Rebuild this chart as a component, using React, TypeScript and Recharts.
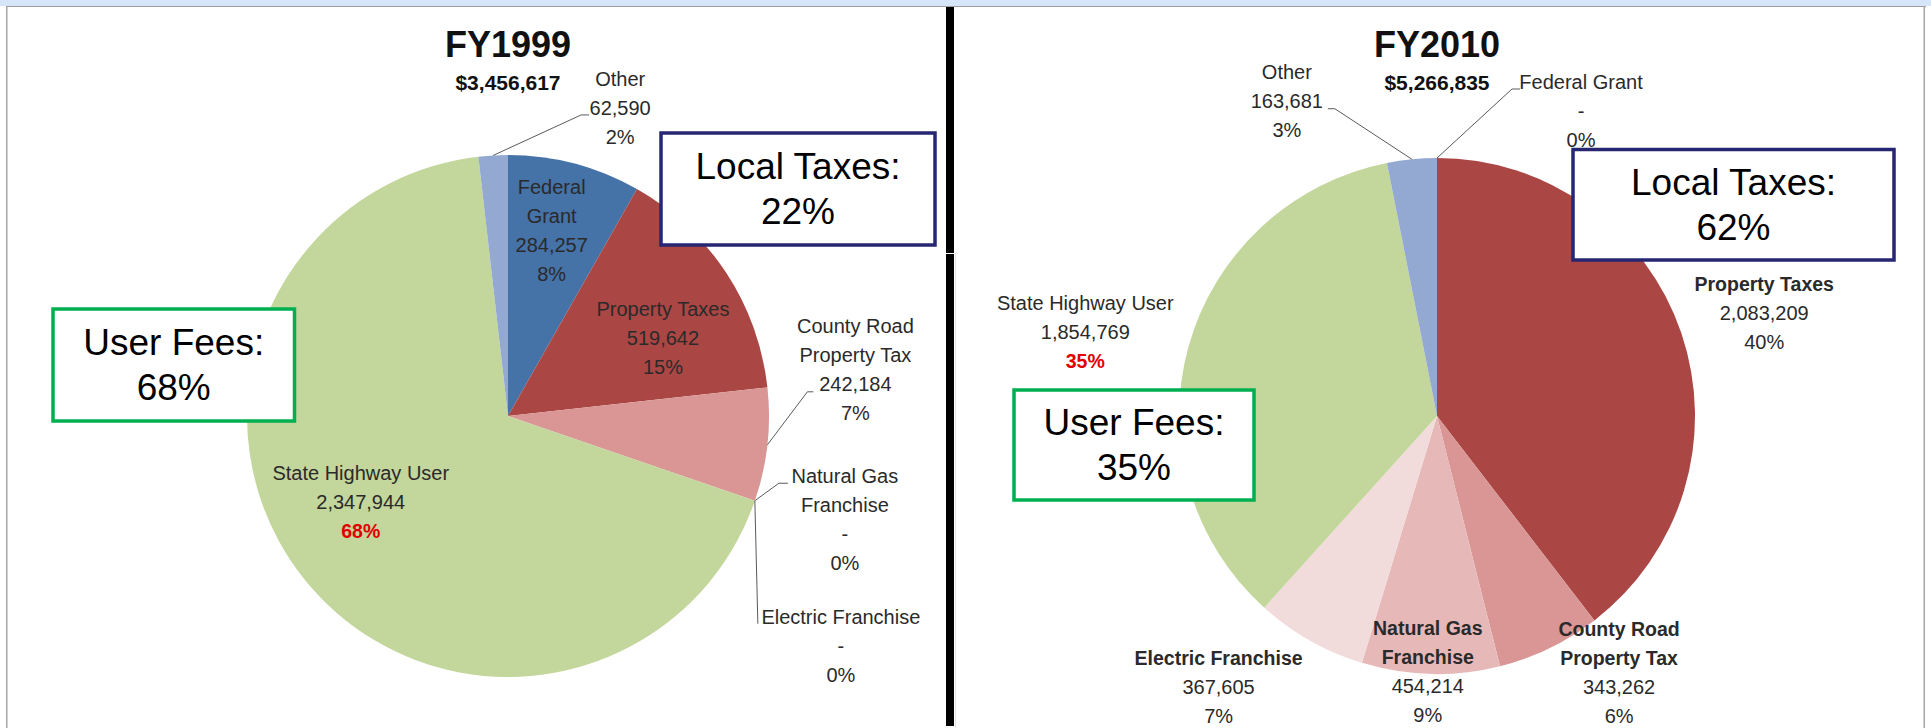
import React from "react";
import { PieChart, Pie, Cell } from "recharts";

document.body.style.margin = "0";

// revenue sources, in clockwise order starting at 12 o'clock
const sources = [
  "Federal Grant",
  "Property Taxes",
  "County Road Property Tax",
  "Natural Gas Franchise",
  "Electric Franchise",
  "State Highway User",
  "Other",
];
const fy1999Values = [284257, 519642, 242184, 0, 0, 2347944, 62590];
const fy2010Values = [0, 2083209, 343262, 454214, 367605, 1854769, 163681];
const fy1999Pct = ["8%", "15%", "7%", "0%", "0%", "68%", "2%"];
const fy2010Pct = ["0%", "40%", "6%", "9%", "7%", "35%", "3%"];
const sliceColors = ["#4572A7", "#AA4643", "#D99694", "#E6B9B8", "#F2DCDB", "#C3D69B", "#93A9D1"];

const titles = ["FY1999", "FY2010"];
const totals = ["$3,456,617", "$5,266,835"];
const userFees = ["68%", "35%"];
const localTaxes = ["22%", "62%"];

const FONT = "'Liberation Sans', Arial, sans-serif";
const LINE = 29;

type LabelLayout = {
  lines: string[];
  rf: number;
  dx: number;
  dy: number;
  bold?: boolean;
  elbow?: [number, number];
  tail?: [number, number];
};

// label placement: anchor on the slice's mid angle, nudged like Excel did
const layout1999: LabelLayout[] = [
  { lines: ["Federal", "Grant"], rf: 0.73, dx: -5, dy: -1 },
  { lines: ["Property Taxes"], rf: 0.66, dx: 11, dy: 17 },
  { lines: ["County Road", "Property Tax"], rf: 1, dx: 88, dy: -75, elbow: [-48, 22], tail: [-42, 22] },
  { lines: ["Natural Gas", "Franchise"], rf: 1, dx: 90, dy: 19, elbow: [-66, -36.5], tail: [-57, -36.5] },
  { lines: ["Electric Franchise"], rf: 1, dx: 86, dy: 145, elbow: [-83, -22] },
  { lines: ["State Highway User"], rf: 0.65, dx: -15, dy: -20 },
  { lines: ["Other"], rf: 1, dx: 127, dy: -47.5, elbow: [-39, 7], tail: [-31, 7] },
];
const layout2010: LabelLayout[] = [
  { lines: ["Federal Grant"], rf: 1, dx: 144, dy: -47, elbow: [-69, -22], tail: [-61, -22] },
  { lines: ["Property Taxes"], rf: 1, dx: 83, dy: -19.5, bold: true },
  { lines: ["County Road", "Property Tax"], rf: 1, dx: 69.5, dy: 24, bold: true },
  { lines: ["Natural Gas", "Franchise"], rf: 1, dx: -3, dy: -2, bold: true },
  { lines: ["Electric Franchise"], rf: 1, dx: -91.5, dy: 46, bold: true },
  { lines: ["State Highway User"], rf: 1, dx: -103, dy: -15 },
  { lines: ["Other"], rf: 1, dx: -125, dy: -58, elbow: [48, 7.5], tail: [41, 7.5] },
];

const makeLabel = (layout: LabelLayout[], pcts: string[]) => (props: any) => {
  const { cx, cy, midAngle, outerRadius, index, value } = props;
  const L = layout[index];
  const a = (midAngle * Math.PI) / 180;
  const ex = cx + outerRadius * Math.cos(a);
  const ey = cy - outerRadius * Math.sin(a);
  const bx = cx + L.rf * outerRadius * Math.cos(a) + L.dx;
  const by = cy - L.rf * outerRadius * Math.sin(a) + L.dy;
  const rows = [
    ...L.lines.map((t) => ({ t, bold: !!L.bold, red: false })),
    { t: value ? Number(value).toLocaleString("en-US") : "-", bold: false, red: false },
    { t: pcts[index], bold: sources[index] === "State Highway User", red: sources[index] === "State Highway User" },
  ];
  const top = by - ((rows.length - 1) * LINE) / 2;
  let pts = "";
  if (L.elbow) {
    pts = `${ex},${ey} ${bx + L.elbow[0]},${by + L.elbow[1]}`;
    if (L.tail) pts += ` ${bx + L.tail[0]},${by + L.tail[1]}`;
  }
  return (
    <g>
      {pts && <polyline points={pts} fill="none" stroke="#5a5a5a" strokeWidth={1} />}
      {rows.map((r, i) => (
        <text
          key={i}
          x={bx}
          y={top + i * LINE}
          textAnchor="middle"
          dominantBaseline="central"
          fontFamily={FONT}
          fontSize={r.bold ? 19.5 : 20}
          fontWeight={r.bold ? "bold" : "normal"}
          fill={r.red ? "#E00000" : "#2a2a2a"}
        >
          {r.t}
        </text>
      ))}
    </g>
  );
};

const data1999 = sources.map((name, i) => ({ name, value: fy1999Values[i] }));
const data2010 = sources.map((name, i) => ({ name, value: fy2010Values[i] }));

const Box = ({ x, y, w, h, color, lines }: { x: number; y: number; w: number; h: number; color: string; lines: string[] }) => (
  <g>
    <rect x={x} y={y} width={w} height={h} fill="#fff" stroke={color} strokeWidth={3.5} />
    {lines.map((t, i) => (
      <text
        key={i}
        x={x + w / 2}
        y={y + h / 2 + (i - 0.5) * 44.5}
        textAnchor="middle"
        dominantBaseline="central"
        fontFamily={FONT}
        fontSize={37}
        fill="#000"
      >
        {t}
      </text>
    ))}
  </g>
);

export default function App() {
  const centers = [508, 1437];
  return (
    <div style={{ position: "relative", width: 1931, height: 728, background: "#fff", overflow: "hidden" }}>
      <PieChart width={1931} height={728} margin={{ top: 0, right: 0, bottom: 0, left: 0 }}>
        <Pie
          data={data1999}
          dataKey="value"
          nameKey="name"
          cx={508}
          cy={416}
          outerRadius={261}
          startAngle={90}
          endAngle={-270}
          stroke="none"
          isAnimationActive={false}
          labelLine={false}
          label={makeLabel(layout1999, fy1999Pct)}
        >
          {data1999.map((d, i) => (
            <Cell key={d.name} fill={sliceColors[i]} />
          ))}
        </Pie>
        <Pie
          data={data2010}
          dataKey="value"
          nameKey="name"
          cx={1437}
          cy={416}
          outerRadius={258}
          startAngle={90}
          endAngle={-270}
          stroke="none"
          isAnimationActive={false}
          labelLine={false}
          label={makeLabel(layout2010, fy2010Pct)}
        >
          {data2010.map((d, i) => (
            <Cell key={d.name} fill={sliceColors[i]} />
          ))}
        </Pie>
      </PieChart>
      <svg width={1931} height={728} style={{ position: "absolute", left: 0, top: 0, pointerEvents: "none" }}>
        {/* frame */}
        <rect x={0} y={0} width={1931} height={6} fill="#D6E5F9" />
        <rect x={6} y={6} width={1920} height={1} fill="#9c9c9c" />
        <rect x={6} y={6} width={1.5} height={722} fill="#a6a6a6" />
        <rect x={1923.5} y={6} width={1.5} height={722} fill="#a6a6a6" />
        <rect x={955} y={253} width={1} height={475} fill="#e4e4e4" />
        <rect x={946} y={7} width={8} height={719} fill="#000" />
        <rect x={946} y={253} width={8} height={1} fill="#fff" />
        {titles.map((t, i) => (
          <g key={t}>
            <text x={centers[i]} y={44} textAnchor="middle" dominantBaseline="central" fontFamily={FONT} fontSize={36} fontWeight="bold" fill="#111">
              {t}
            </text>
            <text x={centers[i]} y={82} textAnchor="middle" dominantBaseline="central" fontFamily={FONT} fontSize={21} fontWeight="bold" fill="#111">
              {totals[i]}
            </text>
          </g>
        ))}
        <Box x={53} y={309} w={241.5} h={112} color="#00B050" lines={["User Fees:", userFees[0]]} />
        <Box x={661} y={133} w={274} h={112} color="#262672" lines={["Local Taxes:", localTaxes[0]]} />
        <Box x={1014} y={390} w={240} h={110} color="#00B050" lines={["User Fees:", userFees[1]]} />
        <Box x={1573} y={149.5} w={321} h={110.5} color="#262672" lines={["Local Taxes:", localTaxes[1]]} />
      </svg>
    </div>
  );
}
